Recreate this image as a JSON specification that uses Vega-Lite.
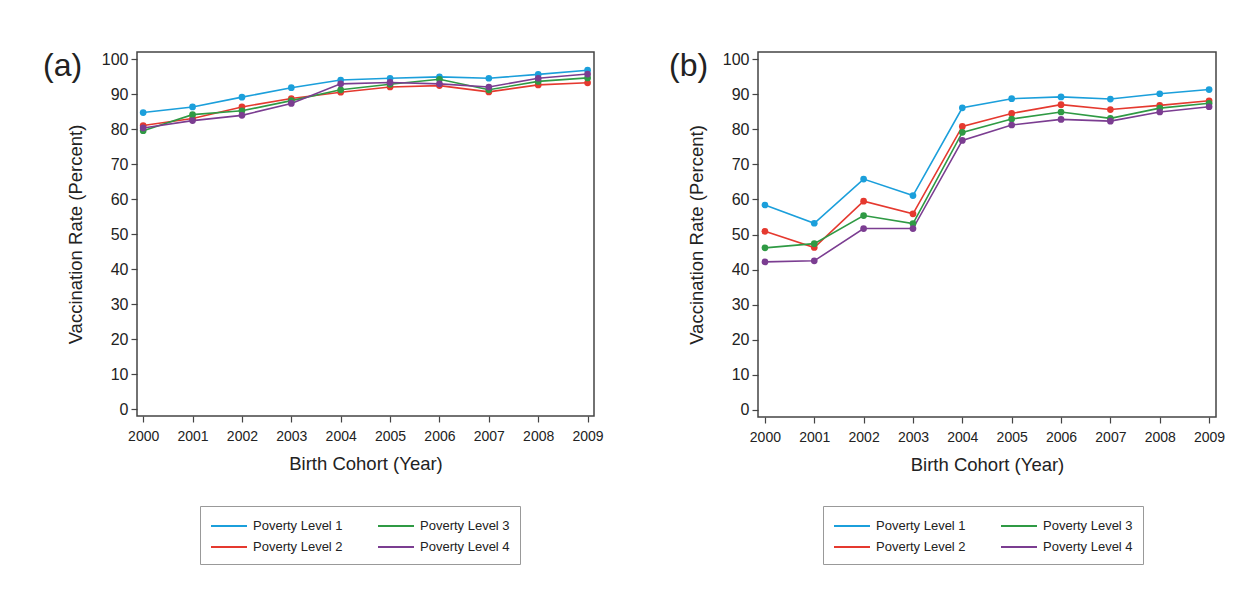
{
  "$schema": "https://vega.github.io/schema/vega-lite/v6.json",
  "background": "white",
  "padding": {"left": 42, "top": 49, "right": 10, "bottom": 10},
  "spacing": 64,
  "resolve": {"scale": {"color": "independent"}, "legend": {"color": "independent"}},
  "datasets": {
    "a": [
      {"year": 2000, "level": "Poverty Level 1", "rate": 84.7},
      {"year": 2001, "level": "Poverty Level 1", "rate": 86.3},
      {"year": 2002, "level": "Poverty Level 1", "rate": 89.1},
      {"year": 2003, "level": "Poverty Level 1", "rate": 91.8},
      {"year": 2004, "level": "Poverty Level 1", "rate": 94.0},
      {"year": 2005, "level": "Poverty Level 1", "rate": 94.5},
      {"year": 2006, "level": "Poverty Level 1", "rate": 94.9},
      {"year": 2007, "level": "Poverty Level 1", "rate": 94.5},
      {"year": 2008, "level": "Poverty Level 1", "rate": 95.6},
      {"year": 2009, "level": "Poverty Level 1", "rate": 96.8},
      {"year": 2000, "level": "Poverty Level 2", "rate": 81.0},
      {"year": 2001, "level": "Poverty Level 2", "rate": 83.0},
      {"year": 2002, "level": "Poverty Level 2", "rate": 86.3},
      {"year": 2003, "level": "Poverty Level 2", "rate": 88.7},
      {"year": 2004, "level": "Poverty Level 2", "rate": 90.5},
      {"year": 2005, "level": "Poverty Level 2", "rate": 92.0},
      {"year": 2006, "level": "Poverty Level 2", "rate": 92.4},
      {"year": 2007, "level": "Poverty Level 2", "rate": 90.6},
      {"year": 2008, "level": "Poverty Level 2", "rate": 92.6},
      {"year": 2009, "level": "Poverty Level 2", "rate": 93.2},
      {"year": 2000, "level": "Poverty Level 3", "rate": 79.5},
      {"year": 2001, "level": "Poverty Level 3", "rate": 84.1},
      {"year": 2002, "level": "Poverty Level 3", "rate": 85.2},
      {"year": 2003, "level": "Poverty Level 3", "rate": 88.1},
      {"year": 2004, "level": "Poverty Level 3", "rate": 91.2},
      {"year": 2005, "level": "Poverty Level 3", "rate": 92.8},
      {"year": 2006, "level": "Poverty Level 3", "rate": 94.2},
      {"year": 2007, "level": "Poverty Level 3", "rate": 91.2},
      {"year": 2008, "level": "Poverty Level 3", "rate": 93.6},
      {"year": 2009, "level": "Poverty Level 3", "rate": 94.6},
      {"year": 2000, "level": "Poverty Level 4", "rate": 80.3},
      {"year": 2001, "level": "Poverty Level 4", "rate": 82.4},
      {"year": 2002, "level": "Poverty Level 4", "rate": 83.9},
      {"year": 2003, "level": "Poverty Level 4", "rate": 87.3},
      {"year": 2004, "level": "Poverty Level 4", "rate": 92.9},
      {"year": 2005, "level": "Poverty Level 4", "rate": 93.3},
      {"year": 2006, "level": "Poverty Level 4", "rate": 92.9},
      {"year": 2007, "level": "Poverty Level 4", "rate": 92.0},
      {"year": 2008, "level": "Poverty Level 4", "rate": 94.5},
      {"year": 2009, "level": "Poverty Level 4", "rate": 95.7}
    ],
    "b": [
      {"year": 2000, "level": "Poverty Level 1", "rate": 58.4},
      {"year": 2001, "level": "Poverty Level 1", "rate": 53.2},
      {"year": 2002, "level": "Poverty Level 1", "rate": 65.8},
      {"year": 2003, "level": "Poverty Level 1", "rate": 61.1},
      {"year": 2004, "level": "Poverty Level 1", "rate": 86.1},
      {"year": 2005, "level": "Poverty Level 1", "rate": 88.7},
      {"year": 2006, "level": "Poverty Level 1", "rate": 89.2},
      {"year": 2007, "level": "Poverty Level 1", "rate": 88.6},
      {"year": 2008, "level": "Poverty Level 1", "rate": 90.1},
      {"year": 2009, "level": "Poverty Level 1", "rate": 91.3},
      {"year": 2000, "level": "Poverty Level 2", "rate": 50.9},
      {"year": 2001, "level": "Poverty Level 2", "rate": 46.3},
      {"year": 2002, "level": "Poverty Level 2", "rate": 59.5},
      {"year": 2003, "level": "Poverty Level 2", "rate": 55.9},
      {"year": 2004, "level": "Poverty Level 2", "rate": 80.8},
      {"year": 2005, "level": "Poverty Level 2", "rate": 84.5},
      {"year": 2006, "level": "Poverty Level 2", "rate": 87.0},
      {"year": 2007, "level": "Poverty Level 2", "rate": 85.6},
      {"year": 2008, "level": "Poverty Level 2", "rate": 86.8},
      {"year": 2009, "level": "Poverty Level 2", "rate": 88.1},
      {"year": 2000, "level": "Poverty Level 3", "rate": 46.2},
      {"year": 2001, "level": "Poverty Level 3", "rate": 47.4},
      {"year": 2002, "level": "Poverty Level 3", "rate": 55.4},
      {"year": 2003, "level": "Poverty Level 3", "rate": 53.1},
      {"year": 2004, "level": "Poverty Level 3", "rate": 79.1},
      {"year": 2005, "level": "Poverty Level 3", "rate": 82.9},
      {"year": 2006, "level": "Poverty Level 3", "rate": 84.9},
      {"year": 2007, "level": "Poverty Level 3", "rate": 83.1},
      {"year": 2008, "level": "Poverty Level 3", "rate": 86.0},
      {"year": 2009, "level": "Poverty Level 3", "rate": 87.4},
      {"year": 2000, "level": "Poverty Level 4", "rate": 42.2},
      {"year": 2001, "level": "Poverty Level 4", "rate": 42.5},
      {"year": 2002, "level": "Poverty Level 4", "rate": 51.7},
      {"year": 2003, "level": "Poverty Level 4", "rate": 51.7},
      {"year": 2004, "level": "Poverty Level 4", "rate": 76.8},
      {"year": 2005, "level": "Poverty Level 4", "rate": 81.2},
      {"year": 2006, "level": "Poverty Level 4", "rate": 82.8},
      {"year": 2007, "level": "Poverty Level 4", "rate": 82.3},
      {"year": 2008, "level": "Poverty Level 4", "rate": 84.9},
      {"year": 2009, "level": "Poverty Level 4", "rate": 86.4}
    ]
  },
  "config": {
    "font": "Liberation Sans",
    "view": {"stroke": "#444444", "strokeWidth": 1.5},
    "axis": {
      "grid": false,
      "domain": false,
      "tickColor": "#444444",
      "tickSize": 6,
      "tickWidth": 1.2,
      "labelColor": "#222222",
      "titleFontSize": 18.5,
      "titleFontWeight": "normal",
      "titleColor": "#222222"
    },
    "axisX": {"labelFontSize": 14, "labelPadding": 7, "titlePadding": 11},
    "axisY": {"labelFontSize": 16, "labelPadding": 3, "titlePadding": 16},
    "legend": {
      "orient": "none", "direction": "horizontal", "columns": 2, "title": null,
      "symbolType": "M-1,0H3", "symbolSize": 324, "symbolStrokeWidth": 2,
      "labelFontSize": 13, "labelColor": "#222222",
      "strokeColor": "#999999", "fillColor": "white", "padding": 10,
      "columnPadding": 31, "rowPadding": 4, "labelOffset": 23
    },
    "title": {"fontSize": 32, "fontWeight": "normal", "color": "#222222", "anchor": "start", "frame": "group", "offset": 0}
  },
  "hconcat": [
    {
      "title": {"text": "(a)", "dx": -94, "dy": 36},
      "width": 457,
      "height": 364,
      "data": {"name": "a"},
      "encoding": {
        "x": {"field": "year", "type": "quantitative",
          "scale": {"domain": [1999.875, 2009.13], "nice": false, "zero": false},
          "axis": {"values": [2000, 2001, 2002, 2003, 2004, 2005, 2006, 2007, 2008, 2009], "format": "d", "labelFlush": false, "title": "Birth Cohort (Year)"}},
        "y": {"field": "rate", "type": "quantitative",
          "scale": {"domain": [-2, 102], "nice": false},
          "axis": {"values": [0, 10, 20, 30, 40, 50, 60, 70, 80, 90, 100], "title": "Vaccination Rate (Percent)"}},
        "color": {"field": "level", "type": "nominal",
          "scale": {"domain": ["Poverty Level 1", "Poverty Level 2", "Poverty Level 3", "Poverty Level 4"], "range": ["#1b9fdb", "#e5392f", "#2f9a44", "#7b3d91"]},
          "legend": {"legendX": 63, "legendY": 454,
            "values": ["Poverty Level 1", "Poverty Level 3", "Poverty Level 2", "Poverty Level 4"]}}
      },
      "layer": [
        {"mark": {"type": "line", "strokeWidth": 1.6}},
        {"mark": {"type": "point", "filled": true, "size": 45, "opacity": 1}}
      ]
    },
    {
      "title": {"text": "(b)", "dx": -89, "dy": 36},
      "width": 458,
      "height": 365,
      "data": {"name": "b"},
      "encoding": {
        "x": {"field": "year", "type": "quantitative",
          "scale": {"domain": [1999.86, 2009.14], "nice": false, "zero": false},
          "axis": {"values": [2000, 2001, 2002, 2003, 2004, 2005, 2006, 2007, 2008, 2009], "format": "d", "labelFlush": false, "title": "Birth Cohort (Year)"}},
        "y": {"field": "rate", "type": "quantitative",
          "scale": {"domain": [-2, 102], "nice": false},
          "axis": {"values": [0, 10, 20, 30, 40, 50, 60, 70, 80, 90, 100], "title": "Vaccination Rate (Percent)"}},
        "color": {"field": "level", "type": "nominal",
          "scale": {"domain": ["Poverty Level 1", "Poverty Level 2", "Poverty Level 3", "Poverty Level 4"], "range": ["#1b9fdb", "#e5392f", "#2f9a44", "#7b3d91"]},
          "legend": {"legendX": 65, "legendY": 454,
            "values": ["Poverty Level 1", "Poverty Level 3", "Poverty Level 2", "Poverty Level 4"]}}
      },
      "layer": [
        {"mark": {"type": "line", "strokeWidth": 1.6}},
        {"mark": {"type": "point", "filled": true, "size": 45, "opacity": 1}}
      ]
    }
  ]
}
